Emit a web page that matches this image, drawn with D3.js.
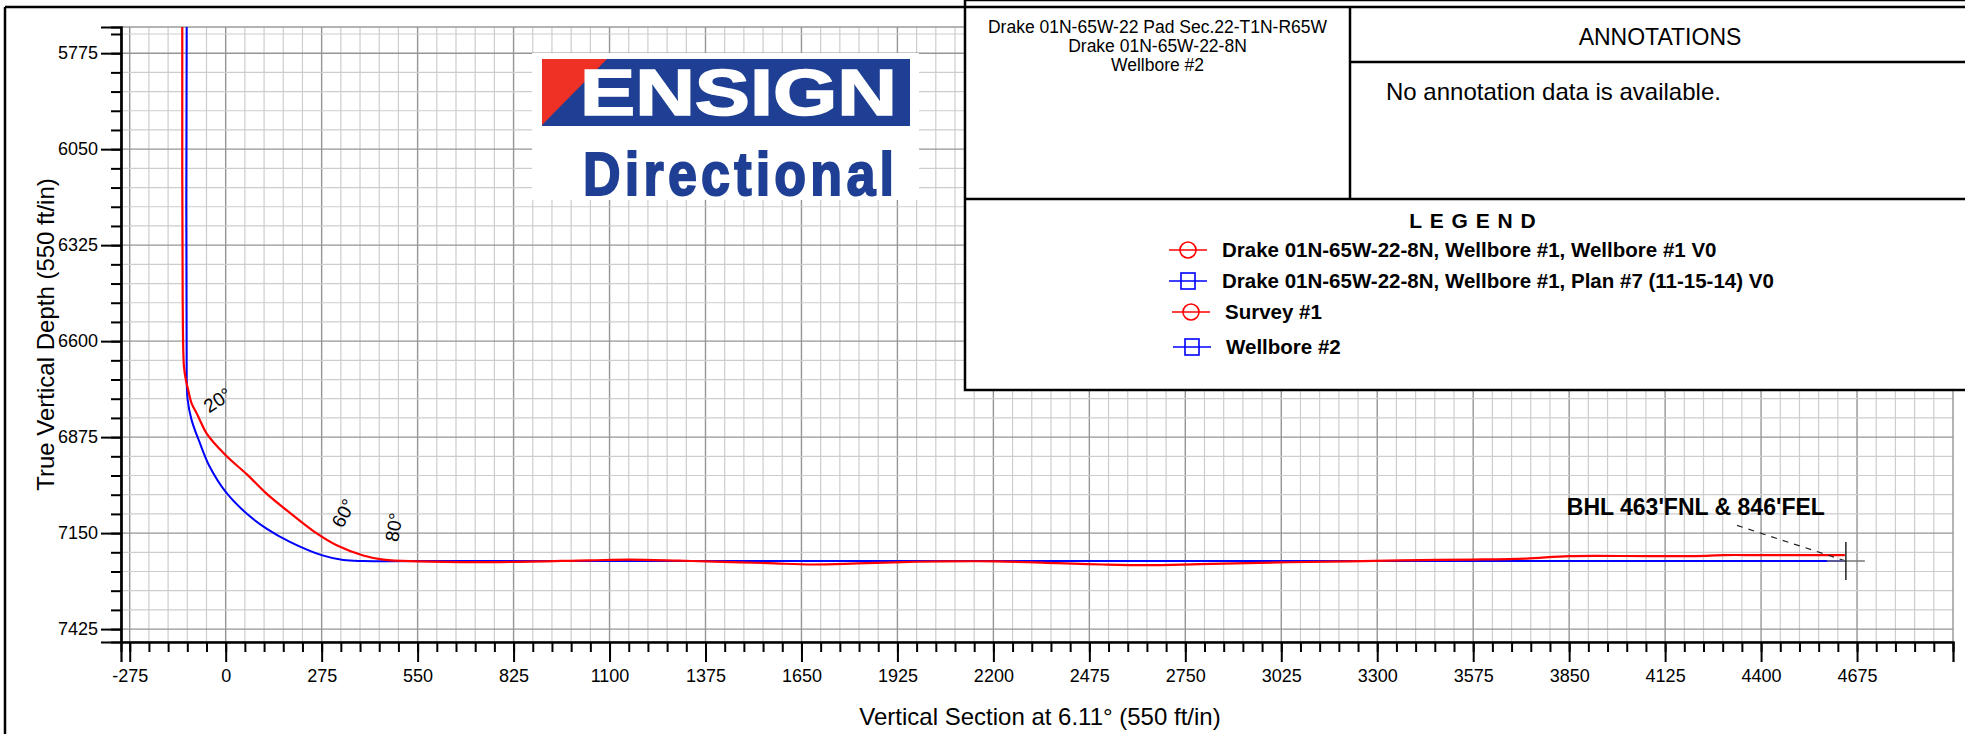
<!doctype html>
<html>
  <head>
    <meta charset="utf-8">
    <style>
      body { margin: 0; background: white; }
      text { font-family: "Liberation Sans", Arial, Helvetica, sans-serif; }
    </style>
    <script src="https://cdnjs.cloudflare.com/ajax/libs/d3/7.8.5/d3.min.js"></script>
  </head>
  <body>
    <div id="chart"></div>
    <script>
      // ---- data (VS ft, TVD ft) ----
      var planVS  = [-111.8, -111.8, -108.9, -97.4, -73.6, -45.7, 0, 60, 117, 184, 275, 337, 394, 550, 4643];
      var planTVD = [5700, 6700, 6769, 6827, 6893, 6960, 7032, 7094, 7137, 7175, 7213, 7227, 7230, 7230, 7230];

      var surveyVS  = [-124.4, -123.2, -119.5, -113.8, -107.2, -97.4, -83.1, -73.6, -54.4, 0, 60, 117, 178, 261, 318, 394, 452, 547,
                       786, 1042, 1157, 1298, 1375, 1554, 1682, 1809, 1937, 2065, 2206, 2385, 2513, 2641, 2792, 3021, 3222,
                       3366, 3572, 3726, 3851, 4088, 4243, 4295, 4398, 4640];
      var surveyTVD = [5700, 6483, 6674, 6712, 6741, 6779, 6807, 6827, 6865, 6927, 6981, 7037, 7087, 7151, 7185, 7214, 7226, 7231,
                       7233, 7228, 7226, 7229, 7231, 7236, 7240, 7237, 7233, 7231, 7231, 7236, 7240, 7242, 7239, 7234, 7231,
                       7228, 7226, 7223, 7216, 7216, 7215, 7213, 7213, 7213];

      var incLabels = ["20°", "60°", "80°"];
      var incVS     = [-23.5, 337, 482];
      var incTVD    = [6769, 7093, 7133];
      var incAngle  = [-33, -62, -80];

      var bhlLabel = "BHL 463'FNL & 846'FEL";
      var bhlVS = 4643, bhlTVD = 7230;
      var bhlTextVS = 4213, bhlTextTVD = 7099;
      var bhlLeadVS = 4331, bhlLeadTVD = 7128;

      var headerLines = ["Drake 01N-65W-22 Pad Sec.22-T1N-R65W", "Drake 01N-65W-22-8N", "Wellbore #2"];
      var legendNames = ["Drake 01N-65W-22-8N, Wellbore #1, Wellbore #1 V0",
                         "Drake 01N-65W-22-8N, Wellbore #1, Plan #7 (11-15-14) V0",
                         "Survey #1",
                         "Wellbore #2"];
      var legendColors = ["#ff0000", "#0000ff", "#ff0000", "#0000ff"];
      var legendShapes = ["circle", "square", "circle", "square"];

      var xTitle = "Vertical Section at 6.11° (550 ft/in)";
      var yTitle = "True Vertical Depth (550 ft/in)";

      // ---- layout ----
      var width = 1965, height = 734;
      var plotL = 121, plotR = 1953, plotT = 27, plotB = 642;

      var svg = d3.select("#chart").append("svg")
                  .attr("width", width)
                  .attr("height", height);

      var x = d3.scaleLinear().domain([-300, 4950]).range([plotL, plotR]);
      var y = d3.scaleLinear().domain([5700, 7462]).range([plotT, plotB]);

      var xMinor = d3.range(-275, 4950, 55);
      var xMajor = d3.range(-275, 4950, 275);
      var yMinor = d3.range(5720, 7462, 55);
      var yMajor = d3.range(5775, 7462, 275);

      // grid
      var grid = svg.append("g");
      grid.selectAll(".vg").data(xMinor).enter().append("line")
          .attr("x1", d => x(d)).attr("x2", d => x(d))
          .attr("y1", plotT).attr("y2", plotB)
          .attr("stroke", d => ((d + 275) % 275 == 0) ? "#959595" : "#cdcdcd")
          .attr("stroke-width", d => ((d + 275) % 275 == 0) ? 1.4 : 1.2);
      grid.selectAll(".hg").data(yMinor).enter().append("line")
          .attr("y1", d => y(d)).attr("y2", d => y(d))
          .attr("x1", plotL).attr("x2", plotR)
          .attr("stroke", d => ((d - 5775) % 275 == 0) ? "#959595" : "#cdcdcd")
          .attr("stroke-width", d => ((d - 5775) % 275 == 0) ? 1.4 : 1.2);
      grid.append("rect")
          .attr("x", plotL).attr("y", plotT)
          .attr("width", plotR - plotL).attr("height", plotB - plotT)
          .attr("fill", "none").attr("stroke", "#959595").attr("stroke-width", 1.4);

      // logo
      var logo = svg.append("g");
      logo.append("rect").attr("x", 532).attr("y", 53).attr("width", 387).attr("height", 147).attr("fill", "white");
      logo.append("rect").attr("x", 542).attr("y", 59).attr("width", 368).attr("height", 67).attr("fill", "#1f3f95");
      logo.append("path").attr("d", "M542,59 L607,59 L542,125 Z").attr("fill", "#ee3124");
      logo.append("text").attr("x", 580).attr("y", 115)
          .attr("textLength", 317).attr("lengthAdjust", "spacingAndGlyphs")
          .style("font-size", "64px").style("font-weight", "bold").attr("fill", "white")
          .style("stroke", "white").style("stroke-width", 1.5)
          .text("ENSIGN");
      // condensed bold word, squeezed sideways and spread out
      logo.append("g").attr("transform", "translate(583,195) scale(0.84,1)")
          .append("text").attr("x", 0).attr("y", 0)
          .attr("textLength", 311 / 0.84).attr("lengthAdjust", "spacing")
          .style("font-size", "62px").style("font-weight", "bold").attr("fill", "#1f3f95")
          .style("stroke", "#1f3f95").style("stroke-width", 2)
          .text("Directional");

      // wellbore lines
      svg.append("clipPath").attr("id", "plotclip").append("rect")
         .attr("x", plotL).attr("y", plotT).attr("width", plotR - plotL).attr("height", plotB - plotT);

      var line = d3.line().x(d => x(d[0])).y(d => y(d[1])).curve(d3.curveCatmullRom.alpha(0.5));
      var lines = svg.append("g").attr("clip-path", "url(#plotclip)");
      lines.append("path").datum(d3.zip(planVS, planTVD))
           .attr("d", line).attr("fill", "none").attr("stroke", "#0000ff").attr("stroke-width", 2);
      lines.append("path").datum(d3.zip(surveyVS, surveyTVD))
           .attr("d", line).attr("fill", "none").attr("stroke", "#ff0000").attr("stroke-width", 2.2);

      // inclination labels
      svg.selectAll(".inc").data(incLabels).enter().append("text")
         .attr("transform", (d, i) => "translate(" + x(incVS[i]) + "," + y(incTVD[i]) + ") rotate(" + incAngle[i] + ")")
         .attr("text-anchor", "middle").attr("dy", "0.35em")
         .style("font-size", "19px")
         .text(d => d);

      // BHL marker
      svg.append("line")
         .attr("x1", x(bhlLeadVS)).attr("y1", y(bhlLeadTVD))
         .attr("x2", x(bhlVS)).attr("y2", y(bhlTVD))
         .attr("stroke", "#222").attr("stroke-width", 1.2).attr("stroke-dasharray", "6,6");
      svg.append("line")
         .attr("x1", x(bhlVS) - 19).attr("x2", x(bhlVS) + 19)
         .attr("y1", y(bhlTVD)).attr("y2", y(bhlTVD))
         .attr("stroke", "#777").attr("stroke-width", 1.5);
      svg.append("line")
         .attr("x1", x(bhlVS)).attr("x2", x(bhlVS))
         .attr("y1", y(bhlTVD) - 19).attr("y2", y(bhlTVD) + 19)
         .attr("stroke", "#222").attr("stroke-width", 1.5);
      svg.append("text")
         .attr("x", x(bhlTextVS)).attr("y", y(bhlTextTVD))
         .attr("text-anchor", "middle")
         .style("font-size", "23px").style("font-weight", "bold")
         .text(bhlLabel);

      // axes
      var yAxisMinor = d3.axisLeft(y).tickValues(yMinor).tickSize(10).tickFormat("");
      var yAxisMajor = d3.axisLeft(y).tickValues(yMajor).tickSize(20).tickPadding(3).tickFormat(d => String(d));
      var xAxisMinor = d3.axisBottom(x).tickValues(xMinor).tickSize(10).tickFormat("");
      var xAxisMajor = d3.axisBottom(x).tickValues(xMajor).tickSize(20).tickPadding(7).tickFormat(d => String(d));

      function styleAxis(g) {
        g.selectAll("path").attr("stroke", "black").attr("stroke-width", 2.2);
        g.selectAll("line").attr("stroke", "black").attr("stroke-width", 2);
        g.selectAll("text").style("font-size", "18px").style("font-family", "'Liberation Sans', Arial").attr("fill", "black");
      }
      svg.append("g").attr("transform", "translate(" + plotL + ",0)").call(yAxisMinor).call(styleAxis);
      svg.append("g").attr("transform", "translate(" + plotL + ",0)").call(yAxisMajor).call(styleAxis);
      svg.append("g").attr("transform", "translate(0," + plotB + ")").call(xAxisMinor).call(styleAxis);
      svg.append("g").attr("transform", "translate(0," + plotB + ")").call(xAxisMajor).call(styleAxis);

      svg.append("text")
         .attr("transform", "translate(54," + ((plotT + plotB) / 2) + ") rotate(-90)")
         .attr("text-anchor", "middle").style("font-size", "24px")
         .text(yTitle);
      svg.append("text")
         .attr("x", 1040).attr("y", 725)
         .attr("text-anchor", "middle").style("font-size", "24px")
         .text(xTitle);

      // outer frame
      svg.append("line").attr("x1", 5).attr("x2", width).attr("y1", 7).attr("y2", 7)
         .attr("stroke", "black").attr("stroke-width", 2.5);
      svg.append("line").attr("x1", 5).attr("x2", 5).attr("y1", 7).attr("y2", height)
         .attr("stroke", "black").attr("stroke-width", 2.5);

      // header / annotations / legend box
      var box = svg.append("g");
      var bx = 965, bDiv = 1350, bRight = 1975, bMid = 199, bBot = 390;
      box.append("rect").attr("x", bx).attr("y", 0).attr("width", bRight - bx).attr("height", bBot)
         .attr("fill", "white").attr("stroke", "black").attr("stroke-width", 2.5);
      box.append("line").attr("x1", bx).attr("x2", bRight).attr("y1", 7).attr("y2", 7)
         .attr("stroke", "black").attr("stroke-width", 2.5);
      box.append("line").attr("x1", bx).attr("x2", bRight).attr("y1", bMid).attr("y2", bMid)
         .attr("stroke", "black").attr("stroke-width", 2.5);
      box.append("line").attr("x1", bDiv).attr("x2", bDiv).attr("y1", 7).attr("y2", bMid)
         .attr("stroke", "black").attr("stroke-width", 2.5);
      box.append("line").attr("x1", bDiv).attr("x2", bRight).attr("y1", 62).attr("y2", 62)
         .attr("stroke", "black").attr("stroke-width", 2.5);

      box.selectAll(".hdr").data(headerLines).enter().append("text")
         .attr("x", (bx + bDiv) / 2).attr("y", (d, i) => 33 + i * 19.2)
         .attr("text-anchor", "middle").style("font-size", "17.5px")
         .text(d => d);

      box.append("text").attr("x", 1660).attr("y", 45)
         .attr("text-anchor", "middle").style("font-size", "23px")
         .text("ANNOTATIONS");
      box.append("text").attr("x", 1386).attr("y", 100)
         .style("font-size", "24px")
         .text("No annotation data is available.");

      box.append("text").attr("x", 1473).attr("y", 228)
         .attr("text-anchor", "middle").style("font-size", "21px").style("font-weight", "bold")
         .style("letter-spacing", "1px")
         .text("L E G E N D");

      var rowY = [250, 281, 312, 347];
      var rowX = [1188, 1188, 1191, 1192];
      var rows = box.selectAll(".leg").data(legendNames).enter().append("g")
         .attr("transform", (d, i) => "translate(" + rowX[i] + "," + rowY[i] + ")");
      rows.append("line").attr("x1", -19).attr("x2", 19).attr("y1", 0).attr("y2", 0)
          .attr("stroke", (d, i) => legendColors[i]).attr("stroke-width", 1.6);
      rows.each(function(d, i) {
        var g = d3.select(this);
        if (legendShapes[i] == "circle") {
          g.append("circle").attr("r", 8).attr("fill", "none")
           .attr("stroke", legendColors[i]).attr("stroke-width", 1.6);
        } else {
          g.append("rect").attr("x", -7).attr("y", -8).attr("width", 14).attr("height", 16).attr("fill", "none")
           .attr("stroke", legendColors[i]).attr("stroke-width", 1.6);
        }
      });
      rows.append("text").attr("x", 34).attr("y", 7)
          .style("font-size", "20.5px").style("font-weight", "bold")
          .text(d => d);
    </script>
  </body>
</html>
